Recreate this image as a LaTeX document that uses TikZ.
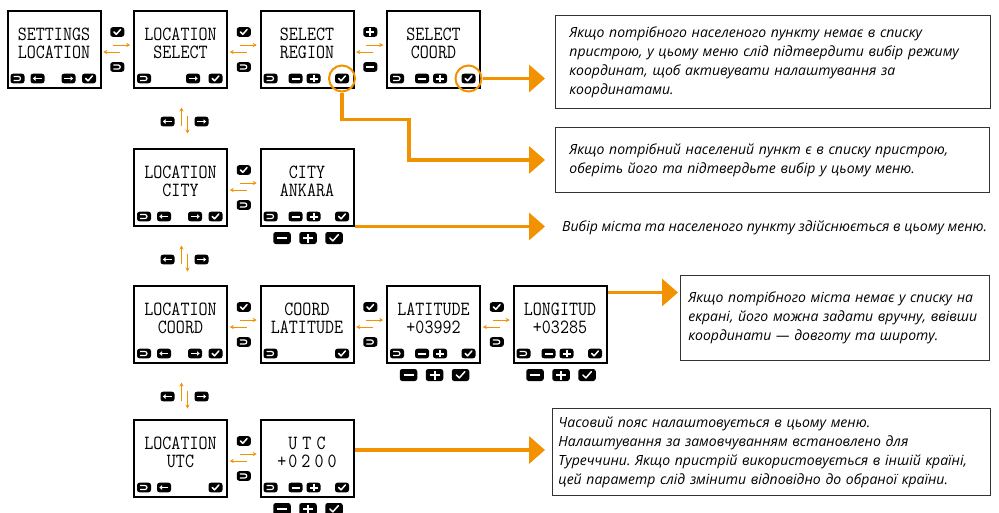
\documentclass[tikz,border=0pt]{standalone}
\usepackage{fontspec}
\newfontfamily\notefont{Open Sans}
\usetikzlibrary{arrows.meta,calc,positioning}
\definecolor{lcdorange}{RGB}{243,146,0}
\frenchspacing

\tikzset{
  lcd/.style={draw, line width=2, fill=white, minimum width=93, minimum height=77, inner sep=0},
  lcdtext/.style={font=\ttfamily\fontsize{17.5}{17}\selectfont, inner sep=0},
  note/.style={draw=black!80, line width=0.9, anchor=north west, align=left,
    font=\notefont\itshape\fontsize{14}{19}\selectfont},
  ring/.style={circle, draw=lcdorange, line width=2, minimum size=26, inner sep=0},
  flowarrow/.style={lcdorange, line width=0.9, -{Stealth[length=4,width=4]}},
  bigarrow/.style={lcdorange, line width=3.5, -{Triangle[length=16,width=27]}},
  btnok/.pic={
    \fill[rounded corners=2.5] (-7,-4.8) rectangle (7,4.8);
    \draw[white, line width=1.5, line cap=round, line join=round] (-3.3,0) -- (-0.9,2.3) -- (3.4,-2.6);
  },
  btnback/.pic={
    \fill[rounded corners=2.5] (-7,-4.8) rectangle (7,4.8);
    \draw[white, line width=1.2] (-4,-2) -- (1,-2) arc[start angle=-90, end angle=90, radius=2] -- (-4,2);
  },
  btnleft/.pic={
    \fill[rounded corners=2.5] (-7,-4.8) rectangle (7,4.8);
    \draw[white, line width=1.3, {Triangle[length=2.6,width=4.4]}-] (-4.6,0) -- (4.2,0);
  },
  btnright/.pic={
    \fill[rounded corners=2.5] (-7,-4.8) rectangle (7,4.8);
    \draw[white, line width=1.3, -{Triangle[length=2.6,width=4.4]}] (-4.2,0) -- (4.6,0);
  },
  btnminus/.pic={
    \fill[rounded corners=2.5] (-7,-4.8) rectangle (7,4.8);
    \draw[white, line width=2] (-4,0) -- (4,0);
  },
  btnplus/.pic={
    \fill[rounded corners=2.5] (-7,-4.8) rectangle (7,4.8);
    \draw[white, line width=2] (-4,0) -- (4,0) (0,-3.6) -- (0,3.6);
  },
}

% screen: name, centre, line 1, line 2, buttons (pic/offset)
\newcommand\lcdscreen[5]{%
  \node[lcd] (#1) at (#2) {};
  \node[lcdtext] (#1-top) at ($(#1.center)+(0,-15)$) {\scalebox{1}[1.15]{#3}};
  \node[lcdtext] (#1-bot) at ($(#1.center)+(0,3)$) {\scalebox{1}[1.15]{#4}};
  \foreach \b/\dx in {#5} {%
    \edef\tmp{\noexpand\pic at ([xshift=\dx, yshift=10]#1.south west) {\b};}\tmp}
}
% arrows and keys between two screens of a row
\newcommand\pairlink[4]{%
  \coordinate (#1-#2) at ($(#1.east)!0.5!(#2.west)$);
  \draw[flowarrow] ($(#1-#2)+(-4,-4)$) -- ($(#1-#2)+(13,-4)$);
  \draw[flowarrow] ($(#1-#2)+(3,3)$) -- ($(#1-#2)+(-14,3)$);
  \pic at ($(#1-#2)+(0,-17)$) {#3};
  \pic at ($(#1-#2)+(0,18)$) {#4};
}
% arrows and keys between two rows
\newcommand\rowlink[2]{%
  \coordinate (#1-#2) at (#1.south);
  \draw[flowarrow] ($(#1-#2)+(1,37)$) -- ($(#1-#2)+(1,19)$);
  \draw[flowarrow] ($(#1-#2)+(7,27)$) -- ($(#1-#2)+(7,45)$);
  \pic at ($(#1-#2)+(-13,33)$) {btnleft};
  \pic at ($(#1-#2)+(21,33)$) {btnright};
}
% keys below a screen
\newcommand\keysbelow[1]{%
  \foreach \b/\dx in {btnminus/-25,btnplus/1,btnok/27} {%
    \edef\tmp{\noexpand\pic[scale=1.25] at ([xshift=\dx, yshift=-11.5]#1.south) {\b};}\tmp}
}

\begin{document}
\begin{tikzpicture}[x=1pt, y=-1pt]
  \useasboundingbox (0,0) rectangle (999,512);

  % ~~~~ Screens ~~~~ %
  \lcdscreen{set}{54,49}{SETTINGS}{LOCATION}{btnback/11,btnleft/31,btnright/62,btnok/82.5}
  \lcdscreen{sel}{180.5,49}{LOCATION}{SELECT}{btnback/11,btnright/60,btnok/82.5}
  \lcdscreen{reg}{307,49}{SELECT}{REGION}{btnback/11,btnminus/36,btnplus/54,btnok/82.5}
  \lcdscreen{crd}{433.5,49}{SELECT}{COORD}{btnback/11,btnminus/36,btnplus/54,btnok/82.5}

  \lcdscreen{city}{180.5,187}{LOCATION}{CITY}{btnback/11,btnleft/31,btnright/62,btnok/82.5}
  \lcdscreen{ankara}{307,187}{CITY}{ANKARA}{btnback/11,btnminus/36,btnplus/54,btnok/82.5}

  \lcdscreen{coord}{180.5,324}{LOCATION}{COORD}{btnback/11,btnleft/31,btnright/62,btnok/82.5}
  \lcdscreen{lat}{307,324}{COORD}{LATITUDE}{btnback/11,btnok/82.5}
  \lcdscreen{latval}{433.5,324}{LATITUDE}{+03992}{btnback/11,btnminus/36,btnplus/54,btnok/82.5}
  \lcdscreen{lonval}{560,324}{LONGITUD}{+03285}{btnback/11,btnminus/36,btnplus/54,btnok/82.5}

  \lcdscreen{utc}{180.5,458}{LOCATION}{UTC}{btnback/11,btnleft/31,btnok/82.5}
  \lcdscreen{utcval}{307,458}{U\kern5pt T\kern5pt C}{+\kern2pt0\kern4pt2\kern4pt0\kern4pt0}{btnback/11,btnminus/36,btnplus/54,btnok/82.5}

  % ~~~~ Keys between screens ~~~~ %
  \pairlink{set}{sel}{btnok}{btnback}
  \pairlink{sel}{reg}{btnok}{btnback}
  \pairlink{reg}{crd}{btnplus}{btnminus}
  \pairlink{city}{ankara}{btnok}{btnback}
  \pairlink{coord}{lat}{btnok}{btnback}
  \pairlink{lat}{latval}{btnok}{btnback}
  \pairlink{latval}{lonval}{btnok}{btnback}
  \pairlink{utc}{utcval}{btnok}{btnback}

  \rowlink{sel}{city}
  \rowlink{city}{coord}
  \rowlink{coord}{utc}

  \keysbelow{ankara}
  \keysbelow{latval}
  \keysbelow{lonval}
  \keysbelow{utcval}

  % ~~~~ Notes ~~~~ %
  \node[note, minimum height=93, text width=407, inner xsep=14] (n1) at (555,15)
    {Якщо потрібного населеного пункту немає в списку\\
     пристрою, у цьому меню слід підтвердити вибір режиму\\
     координат, щоб активувати налаштування за\\
     координатами.};
  \node[note, minimum height=65, text width=406, inner xsep=14] (n2) at (555,127)
    {Якщо потрібний населений пункт є в списку пристрою,\\
     оберіть його та підтвердьте вибір у цьому меню.};
  \node[anchor=west, inner sep=0, font=\notefont\itshape\fontsize{14}{19}\selectfont] (n3) at (562,228)
    {Вибір міста та населеного пункту здійснюється в цьому меню.};
  \node[note, minimum height=85, text width=293, inner xsep=8] (n4) at (680,275)
    {Якщо потрібного міста немає у списку на\\
     екрані, його можна задати вручну, ввівши\\
     координати — довготу та широту.};
  \node[note, minimum height=87, text width=426, inner xsep=6] (n5) at (552,408)
    {Часовий пояс налаштовується в цьому меню.\\
     Налаштування за замовчуванням встановлено для\\
     Туреччини. Якщо пристрій використовується в іншій країні,\\
     цей параметр слід змінити відповідно до обраної країни.};

  % ~~~~ Highlights and callouts ~~~~ %
  \node[ring] (r1) at ([xshift=82.5, yshift=10]reg.south west) {};
  \node[ring] (r2) at ([xshift=82.5, yshift=10]crd.south west) {};

  \draw[bigarrow, shorten >=10] (r2.east) -- (r2.east -| n1.west);
  \draw[bigarrow, shorten >=10] (r1.south) |- ++(67,27) |- (n2.west);
  \draw[bigarrow, shorten >=17] (ankara.south east) -- (ankara.south east -| n3.west);
  \draw[bigarrow, shorten >=2] ([yshift=-8]lonval.north east) -- ([yshift=-8]lonval.north east -| n4.west);
  \draw[bigarrow, shorten >=7] ([yshift=8]utcval.east) -- ([yshift=8]utcval.east -| n5.west);
\end{tikzpicture}
\end{document}
